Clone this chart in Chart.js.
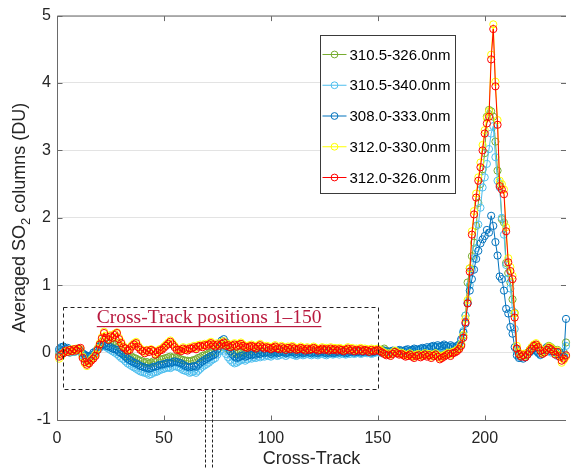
<!DOCTYPE html>
<html lang="en">
<head>
<meta charset="UTF-8">
<title>Averaged SO2 columns by cross-track position</title>
<script src="https://cdn.jsdelivr.net/npm/chart.js"></script>
<style>
  html, body { margin: 0; padding: 0; background: #fff; }
  #wrap { width: 571px; height: 468px; }
</style>
</head>
<body>
<div id="wrap"><canvas id="so2Chart" width="571" height="468"></canvas></div>
<script>
// fitting windows, one series per window (cross-track positions 1..238)
const seriesLabels = ['310.5-326.0nm', '310.5-340.0nm', '308.0-333.0nm', '312.0-330.0nm', '312.0-326.0nm'];
const seriesColors = ['#77AC30', '#4DBEEE', '#0072BD', '#FFFF00', '#FF0000'];

const so2_3105_3260 = [
  -0.02, 0.01, 0.03, 0.02, 0.03, 0.0, 0.02, 0.01, 0.03, 0.04,
  0.02, -0.05, -0.1, -0.13, -0.12, -0.09, -0.05, -0.02, 0.04, 0.1,
  0.16, 0.2, 0.16, 0.14, 0.15, 0.13, 0.12, 0.14, 0.09, 0.04,
  0.0, -0.03, -0.06, -0.07, -0.06, -0.08, -0.09, -0.11, -0.12, -0.13,
  -0.15, -0.14, -0.16, -0.15, -0.13, -0.14, -0.12, -0.1, -0.1, -0.09,
  -0.08, -0.07, -0.06, -0.08, -0.07, -0.08, -0.09, -0.1, -0.11, -0.12,
  -0.12, -0.13, -0.12, -0.11, -0.1, -0.08, -0.07, -0.05, -0.04, -0.03,
  -0.01, 0.0, 0.02, 0.01, 0.04, 0.07, 0.1, 0.11, 0.08, 0.05,
  0.02, 0.0, -0.01, -0.02, 0.0, 0.01, 0.0, -0.01, 0.01, 0.02,
  0.01, 0.02, 0.0, 0.02, 0.03, 0.01, 0.0, 0.02, 0.01, 0.0,
  0.02, 0.03, 0.01, 0.02, 0.04, 0.02, 0.01, 0.03, 0.02, 0.03,
  0.02, 0.01, 0.02, 0.04, 0.02, 0.01, 0.03, 0.02, 0.01, 0.03,
  0.02, 0.01, 0.02, 0.03, 0.01, 0.02, 0.01, 0.03, 0.02, 0.02,
  0.01, 0.02, 0.03, 0.01, 0.02, 0.03, 0.01, 0.02, 0.01, 0.02,
  0.01, 0.03, 0.01, 0.02, 0.02, 0.0, 0.02, 0.01, 0.02, 0.03,
  0.02, 0.04, 0.06, 0.03, 0.01, -0.01, 0.01, 0.02, 0.0, -0.01,
  -0.01, -0.02, -0.03, -0.02, -0.01, -0.03, -0.04, -0.02, -0.02, -0.04,
  -0.02, -0.01, -0.03, -0.02, -0.04, -0.02, 0.0, -0.03, -0.05, -0.03,
  -0.02, 0.0, 0.01, -0.01, 0.02, 0.03, 0.04, 0.06, 0.12, 0.25,
  0.55, 1.04, 1.25, 1.43, 1.63, 1.88, 2.22, 2.5, 2.72, 2.96,
  3.5, 3.6, 3.58, 3.5, 3.13, 2.7, 2.5, 1.98, 1.93, 1.33,
  1.18, 1.04, 0.79, 0.59, 0.05, -0.03, -0.05, -0.02, -0.04, 0.0,
  0.04, 0.08, 0.11, 0.09, 0.06, 0.02, -0.01, 0.03, 0.06, 0.1,
  0.08, 0.05, 0.02, 0.04, -0.01, -0.05, 0.0, 0.15
];

const so2_3105_3400 = [
  0.02, 0.05, 0.07, 0.04, 0.05, 0.0, 0.02, 0.01, 0.02, 0.03,
  0.01, -0.04, -0.06, -0.08, -0.09, -0.07, -0.03, 0.0, 0.04, 0.07,
  0.09, 0.1, 0.08, 0.06, 0.04, 0.02, 0.0, -0.02, -0.05, -0.08,
  -0.1, -0.13, -0.16, -0.18, -0.2, -0.22, -0.24, -0.26, -0.28, -0.29,
  -0.3, -0.31, -0.33, -0.32, -0.3, -0.29, -0.28, -0.26, -0.25, -0.24,
  -0.23, -0.22, -0.23, -0.21, -0.2, -0.21, -0.22, -0.24, -0.26, -0.27,
  -0.28, -0.3, -0.29, -0.28, -0.3, -0.27, -0.24, -0.21, -0.19, -0.17,
  -0.15, -0.12, -0.1, -0.08, -0.03, 0.02, 0.05, 0.03, -0.02, -0.07,
  -0.11, -0.14, -0.16, -0.15, -0.13, -0.11, -0.1, -0.12, -0.1, -0.08,
  -0.09, -0.07, -0.08, -0.06, -0.07, -0.05, -0.06, -0.04, -0.05, -0.06,
  -0.04, -0.03, -0.05, -0.04, -0.02, -0.03, -0.05, -0.03, -0.02, -0.03,
  -0.04, -0.05, -0.03, -0.02, -0.04, -0.03, -0.01, -0.03, -0.04, -0.02,
  -0.03, -0.04, -0.02, -0.01, -0.03, -0.04, -0.02, -0.01, -0.03, -0.02,
  -0.01, -0.03, -0.01, -0.02, -0.03, -0.01, -0.02, 0.0, -0.02, -0.01,
  0.0, -0.02, -0.01, 0.01, -0.01, 0.0, -0.02, -0.01, 0.0, 0.01,
  0.0, -0.01, 0.01, 0.0, -0.02, 0.0, 0.01, -0.01, 0.0, 0.02,
  0.01, 0.0, 0.02, 0.03, 0.01, 0.02, 0.04, 0.03, 0.02, 0.04,
  0.05, 0.03, 0.06, 0.04, 0.07, 0.08, 0.06, 0.09, 0.07, 0.08,
  0.1, 0.08, 0.06, 0.09, 0.07, 0.05, 0.08, 0.1, 0.18, 0.32,
  0.55, 0.75, 1.0, 1.23, 1.4, 1.55, 1.9, 2.15, 2.45, 2.6,
  2.8, 3.02, 3.25, 3.36, 2.9, 2.55, 2.45, 2.0, 1.75, 1.3,
  1.1, 0.95, 0.62, 0.35, 0.02, -0.06, -0.08, -0.05, -0.07, -0.03,
  0.0, 0.03, 0.05, 0.02, -0.01, -0.04, 0.01, 0.04, 0.06, 0.03,
  0.0, 0.02, -0.02, -0.05, 0.0, -0.06, -0.04, 0.1
];

const so2_3080_3330 = [
  0.05, 0.08, 0.09, 0.06, 0.07, 0.02, 0.04, 0.03, 0.04, 0.06,
  0.04, -0.01, -0.03, -0.05, -0.06, -0.04, 0.0, 0.02, 0.06, 0.09,
  0.11, 0.13, 0.1, 0.09, 0.08, 0.06, 0.05, 0.04, 0.01, -0.01,
  -0.03, -0.06, -0.09, -0.11, -0.13, -0.15, -0.16, -0.18, -0.2, -0.21,
  -0.22, -0.23, -0.24, -0.23, -0.21, -0.21, -0.2, -0.18, -0.18, -0.17,
  -0.16, -0.15, -0.16, -0.14, -0.13, -0.14, -0.15, -0.16, -0.18, -0.2,
  -0.21, -0.22, -0.21, -0.2, -0.21, -0.18, -0.15, -0.13, -0.11, -0.09,
  -0.07, -0.05, -0.04, -0.02, 0.05, 0.12, 0.18, 0.2, 0.15, 0.08,
  0.02, -0.03, -0.06, -0.08, -0.07, -0.05, -0.04, -0.06, -0.05, -0.03,
  -0.04, -0.02, -0.03, -0.01, -0.02, 0.0, -0.01, 0.01, 0.0, -0.02,
  0.0, 0.01, -0.01, 0.0, 0.02, 0.01, -0.01, 0.0, 0.02, 0.01,
  0.0, -0.02, 0.0, 0.01, -0.01, 0.0, 0.02, 0.0, -0.01, 0.01,
  0.0, -0.01, 0.01, 0.02, 0.0, -0.01, 0.0, 0.01, -0.01, 0.0,
  0.01, 0.0, 0.02, 0.01, -0.01, 0.0, 0.01, 0.02, 0.0, 0.01,
  0.02, 0.0, 0.01, 0.03, 0.01, 0.02, 0.0, 0.01, 0.02, 0.03,
  0.02, 0.01, 0.03, 0.02, 0.0, 0.02, 0.03, 0.01, 0.02, 0.04,
  0.03, 0.02, 0.04, 0.05, 0.03, 0.04, 0.06, 0.05, 0.04, 0.06,
  0.07, 0.05, 0.08, 0.06, 0.09, 0.1, 0.08, 0.11, 0.09, 0.1,
  0.12, 0.1, 0.08, 0.11, 0.09, 0.07, 0.1, 0.12, 0.2, 0.3,
  0.43, 0.73, 0.92, 1.09, 1.23, 1.39, 1.51, 1.62, 1.68, 1.73,
  1.82, 1.78, 2.03, 1.88, 1.64, 1.44, 1.13, 1.09, 0.92, 0.65,
  0.58, 0.38, 0.28, 0.08, -0.04, -0.08, -0.05, -0.09, -0.06, -0.02,
  0.01, 0.04, 0.06, 0.03, 0.0, -0.03, 0.02, 0.05, 0.08, 0.05,
  0.02, 0.04, 0.0, -0.03, 0.01, -0.04, -0.06, 0.5
];

const so2_3120_3300 = [
  -0.09, -0.05, 0.0, 0.02, 0.03, 0.02, 0.05, 0.03, 0.06, 0.04,
  0.05, -0.06, -0.16, -0.2, -0.15, -0.1, -0.07, -0.03, 0.06, 0.14,
  0.23, 0.31, 0.25, 0.2, 0.26, 0.24, 0.28, 0.3, 0.22, 0.16,
  0.1, 0.07, 0.05, 0.06, 0.11, 0.14, 0.16, 0.1, 0.06, 0.03,
  0.01, 0.04, 0.03, 0.05, 0.03, -0.01, 0.02, 0.05, 0.06, 0.09,
  0.12, 0.15, 0.18, 0.14, 0.1, 0.06, 0.05, 0.04, 0.08, 0.06,
  0.05, 0.08, 0.07, 0.1, 0.07, 0.11, 0.12, 0.1, 0.13, 0.12,
  0.14, 0.16, 0.13, 0.11, 0.14, 0.12, 0.15, 0.17, 0.12, 0.13,
  0.1, 0.12, 0.14, 0.11, 0.13, 0.15, 0.12, 0.1, 0.09, 0.11,
  0.12, 0.1, 0.08, 0.11, 0.13, 0.1, 0.08, 0.1, 0.09, 0.07,
  0.09, 0.11, 0.08, 0.07, 0.1, 0.08, 0.06, 0.09, 0.07, 0.1,
  0.08, 0.06, 0.07, 0.09, 0.07, 0.05, 0.08, 0.06, 0.07, 0.09,
  0.07, 0.05, 0.06, 0.08, 0.06, 0.07, 0.05, 0.08, 0.06, 0.07,
  0.05, 0.07, 0.06, 0.04, 0.06, 0.08, 0.05, 0.07, 0.04, 0.06,
  0.05, 0.07, 0.04, 0.06, 0.05, 0.03, 0.06, 0.04, 0.05, 0.06,
  0.04, 0.02, 0.0, -0.02, -0.01, -0.03, 0.0, 0.03, 0.01, -0.01,
  0.0, -0.02, -0.04, -0.03, -0.01, -0.04, -0.06, -0.03, -0.02, -0.05,
  -0.03, -0.01, -0.04, -0.02, -0.06, -0.03, -0.01, -0.04, -0.08, -0.06,
  -0.04, -0.02, 0.0, -0.03, 0.01, 0.02, 0.04, 0.07, 0.13, 0.26,
  0.5, 0.78, 1.25, 1.8, 2.1, 2.36, 2.6, 2.82, 3.08, 3.3,
  3.48, 3.58, 4.42, 4.87, 4.02, 3.45, 2.55, 2.5, 2.42, 1.86,
  1.4, 1.27, 1.14, 0.58, 0.1, 0.0, -0.04, -0.02, -0.05, -0.01,
  0.04, 0.08, 0.12, 0.14, 0.1, 0.05, 0.0, 0.02, 0.06, 0.09,
  0.07, 0.04, -0.01, 0.03, -0.04, -0.15, -0.11, -0.06
];

const so2_3120_3260 = [
  -0.06, -0.03, -0.01, 0.03, 0.01, 0.04, 0.02, 0.05, 0.03, 0.06,
  0.07, -0.08, -0.14, -0.18, -0.16, -0.12, -0.09, -0.05, 0.04, 0.12,
  0.21, 0.29, 0.22, 0.19, 0.24, 0.22, 0.26, 0.29, 0.2, 0.14,
  0.08, 0.06, 0.03, 0.04, 0.09, 0.12, 0.14, 0.08, 0.04, 0.02,
  -0.01, 0.03, 0.01, 0.04, 0.02, -0.03, 0.0, 0.03, 0.04, 0.07,
  0.1, 0.13, 0.16, 0.12, 0.08, 0.04, 0.04, 0.02, 0.06, 0.04,
  0.03, 0.06, 0.06, 0.08, 0.05, 0.09, 0.1, 0.08, 0.11, 0.1,
  0.12, 0.14, 0.11, 0.09, 0.12, 0.1, 0.13, 0.15, 0.1, 0.11,
  0.08, 0.1, 0.12, 0.09, 0.11, 0.13, 0.1, 0.08, 0.07, 0.09,
  0.1, 0.08, 0.06, 0.09, 0.11, 0.08, 0.06, 0.08, 0.07, 0.05,
  0.07, 0.09, 0.06, 0.05, 0.08, 0.06, 0.04, 0.07, 0.05, 0.08,
  0.06, 0.04, 0.05, 0.07, 0.05, 0.03, 0.06, 0.04, 0.05, 0.07,
  0.05, 0.03, 0.04, 0.06, 0.04, 0.05, 0.03, 0.06, 0.04, 0.05,
  0.03, 0.05, 0.04, 0.02, 0.04, 0.06, 0.03, 0.05, 0.02, 0.04,
  0.03, 0.05, 0.02, 0.04, 0.03, 0.01, 0.04, 0.02, 0.03, 0.04,
  0.02, 0.0, -0.02, -0.04, -0.03, -0.05, -0.02, 0.01, -0.01, -0.03,
  -0.02, -0.04, -0.06, -0.05, -0.03, -0.06, -0.08, -0.05, -0.04, -0.07,
  -0.05, -0.03, -0.06, -0.04, -0.08, -0.05, -0.03, -0.06, -0.1, -0.08,
  -0.06, -0.04, -0.02, -0.05, -0.01, 0.0, 0.02, 0.05, 0.1, 0.22,
  0.45, 0.73, 1.2, 1.75, 2.05, 2.3, 2.55, 2.75, 3.0, 3.25,
  3.4, 3.5, 4.35, 4.8, 3.95, 3.38, 2.47, 2.42, 2.35, 1.8,
  1.34, 1.21, 1.09, 0.52, 0.06, -0.02, -0.06, -0.04, -0.07, -0.03,
  0.02, 0.06, 0.1, 0.12, 0.08, 0.03, -0.02, 0.0, 0.04, 0.07,
  0.05, 0.02, -0.03, 0.01, -0.06, -0.12, -0.09, -0.04
];

const seriesValues = [so2_3105_3260, so2_3105_3400, so2_3080_3330, so2_3120_3300, so2_3120_3260];
const trackPositions = so2_3120_3260.map((v, i) => i + 1);

const xTicks = [0, 50, 100, 150, 200];
const yTicks = [-1, 0, 1, 2, 3, 4, 5];

// highlighted region and its label
const regionX = [2.7, 150.2];
const regionY = [-0.54, 0.68];
const calloutX = [69.0, 72.3];
const regionLabel = 'Cross-Track positions 1\u2013150';
const regionLabelAt = [18.6, 0.44];

const sans = '"Liberation Sans", Arial, sans-serif';
const ink = '#262626';

const datasets = seriesValues.map((vals, i) => ({
  label: seriesLabels[i],
  data: vals.map((v, j) => ({ x: trackPositions[j], y: v })),
  borderColor: seriesColors[i],
  backgroundColor: 'rgba(0,0,0,0)',
  borderWidth: 1,
  pointRadius: 3.6,
  pointBorderWidth: 1,
  pointBorderColor: seriesColors[i],
  pointBackgroundColor: 'rgba(0,0,0,0)',
  tension: 0,
  clip: false,
  order: seriesValues.length - 1 - i   // last window ends up on top
}));

const axesFrame = {
  id: 'axesFrame',
  afterDatasetsDraw(chart) {
    const { ctx, scales: { x, y } } = chart;
    // dashed box around positions 1-150
    ctx.save();
    ctx.strokeStyle = '#222';
    ctx.lineWidth = 1;
    ctx.setLineDash([4, 3]);
    const x0 = Math.round(x.getPixelForValue(regionX[0])) + 0.5;
    const x1 = Math.round(x.getPixelForValue(regionX[1])) + 0.5;
    const y0 = Math.round(y.getPixelForValue(regionY[1])) + 0.5;
    const y1 = Math.round(y.getPixelForValue(regionY[0])) + 0.5;
    ctx.strokeRect(x0, y0, x1 - x0, y1 - y0);
    ctx.restore();

    ctx.save();
    ctx.font = '19.5px "Liberation Serif", "Times New Roman", serif';
    ctx.fillStyle = '#B8193F';
    ctx.textBaseline = 'alphabetic';
    const tx = x.getPixelForValue(regionLabelAt[0]);
    const ty = y.getPixelForValue(regionLabelAt[1]);
    ctx.fillText(regionLabel, tx, ty);
    const w = ctx.measureText(regionLabel).width;
    ctx.fillRect(tx, Math.round(ty) + 3, w, 1.2);
    ctx.restore();
  },
  afterDraw(chart) {
    const { ctx, chartArea: a, scales: { x, y } } = chart;
    ctx.save();
    ctx.strokeStyle = '#6a6a6a';
    ctx.lineWidth = 1;
    const L = a.left + 0.5, B = a.bottom + 0.5, T = a.top + 0.5;
    ctx.beginPath();
    ctx.moveTo(L, T); ctx.lineTo(L, B); ctx.lineTo(a.right, B);
    ctx.moveTo(L, T); ctx.lineTo(a.right, T);
    // inward ticks
    xTicks.forEach(v => {
      const px = Math.round(x.getPixelForValue(v)) + 0.5;
      ctx.moveTo(px, B); ctx.lineTo(px, B - 5);
      ctx.moveTo(px, T); ctx.lineTo(px, T + 5);
    });
    yTicks.forEach(v => {
      const py = Math.round(y.getPixelForValue(v)) + 0.5;
      ctx.moveTo(L, py); ctx.lineTo(L + 5, py);
      ctx.moveTo(a.right, py); ctx.lineTo(a.right - 5, py);
    });
    ctx.stroke();
    ctx.restore();

    // callout running down from the dashed box
    ctx.save();
    ctx.strokeStyle = '#222';
    ctx.lineWidth = 1;
    ctx.setLineDash([3, 2]);
    const cyTop = Math.round(y.getPixelForValue(regionY[0])) + 0.5;
    ctx.beginPath();
    calloutX.forEach(v => {
      const px = Math.round(x.getPixelForValue(v)) + 0.5;
      ctx.moveTo(px, cyTop); ctx.lineTo(px, chart.height);
    });
    ctx.stroke();
    ctx.restore();

    // axis titles
    ctx.save();
    ctx.fillStyle = ink;
    ctx.font = '18px ' + sans;
    ctx.textAlign = 'center';
    ctx.textBaseline = 'alphabetic';
    ctx.fillText('Cross-Track', (a.left + a.right) / 2, 464);
    ctx.restore();

    ctx.save();
    ctx.fillStyle = ink;
    ctx.translate(25, (a.top + a.bottom) / 2);
    ctx.rotate(-Math.PI / 2);
    const big = '18px ' + sans, small = '13px ' + sans;
    const parts = [['Averaged SO', big, 0], ['2', small, 5], [' columns (DU)', big, 0]];
    let total = 0;
    parts.forEach(p => { ctx.font = p[1]; total += ctx.measureText(p[0]).width; });
    let cx = -total / 2;
    ctx.textBaseline = 'alphabetic';
    parts.forEach(p => {
      ctx.font = p[1];
      ctx.fillText(p[0], cx, p[2]);
      cx += ctx.measureText(p[0]).width;
    });
    ctx.restore();

    // legend box
    ctx.save();
    const lx = 320.5, ly = 35.5, lw = 135, lh = 158;
    ctx.fillStyle = '#fff';
    ctx.fillRect(lx, ly, lw, lh);
    ctx.strokeStyle = '#3a3a3a';
    ctx.lineWidth = 1;
    ctx.strokeRect(lx, ly, lw, lh);
    ctx.font = '15px ' + sans;
    ctx.textBaseline = 'middle';
    seriesLabels.forEach((lab, i) => {
      const ry = ly + 19 + i * 30.75;
      ctx.strokeStyle = seriesColors[i];
      ctx.beginPath();
      ctx.moveTo(lx + 2, ry); ctx.lineTo(lx + 26, ry);
      ctx.stroke();
      ctx.beginPath();
      ctx.arc(lx + 14, ry, 3.4, 0, Math.PI * 2);
      ctx.stroke();
      ctx.fillStyle = '#000';
      ctx.fillText(lab, lx + 29, ry + 1);
    });
    ctx.restore();
  }
};

new Chart(document.getElementById('so2Chart'), {
  type: 'line',
  data: { datasets },
  options: {
    responsive: false,
    animation: false,
    devicePixelRatio: 1,
    layout: { padding: { top: 15, right: 0, left: 0, bottom: 0 } },
    plugins: { legend: { display: false }, tooltip: { enabled: false } },
    scales: {
      x: {
        type: 'linear',
        min: 0,
        max: 238,
        afterBuildTicks: s => { s.ticks = xTicks.map(v => ({ value: v })); },
        afterFit: s => { s.height = 48; },
        grid: { display: false, drawTicks: false },
        border: { display: false },
        ticks: { color: ink, font: { family: sans, size: 16 }, padding: 9, maxRotation: 0 }
      },
      y: {
        min: -1,
        max: 5,
        afterBuildTicks: s => { s.ticks = yTicks.map(v => ({ value: v })); },
        afterFit: s => { s.width = 57; },
        grid: { color: '#e3e3e3', lineWidth: 1, drawTicks: false },
        border: { display: false },
        ticks: { color: ink, font: { family: sans, size: 16 }, padding: 6 }
      }
    }
  },
  plugins: [axesFrame]
});
</script>
</body>
</html>
